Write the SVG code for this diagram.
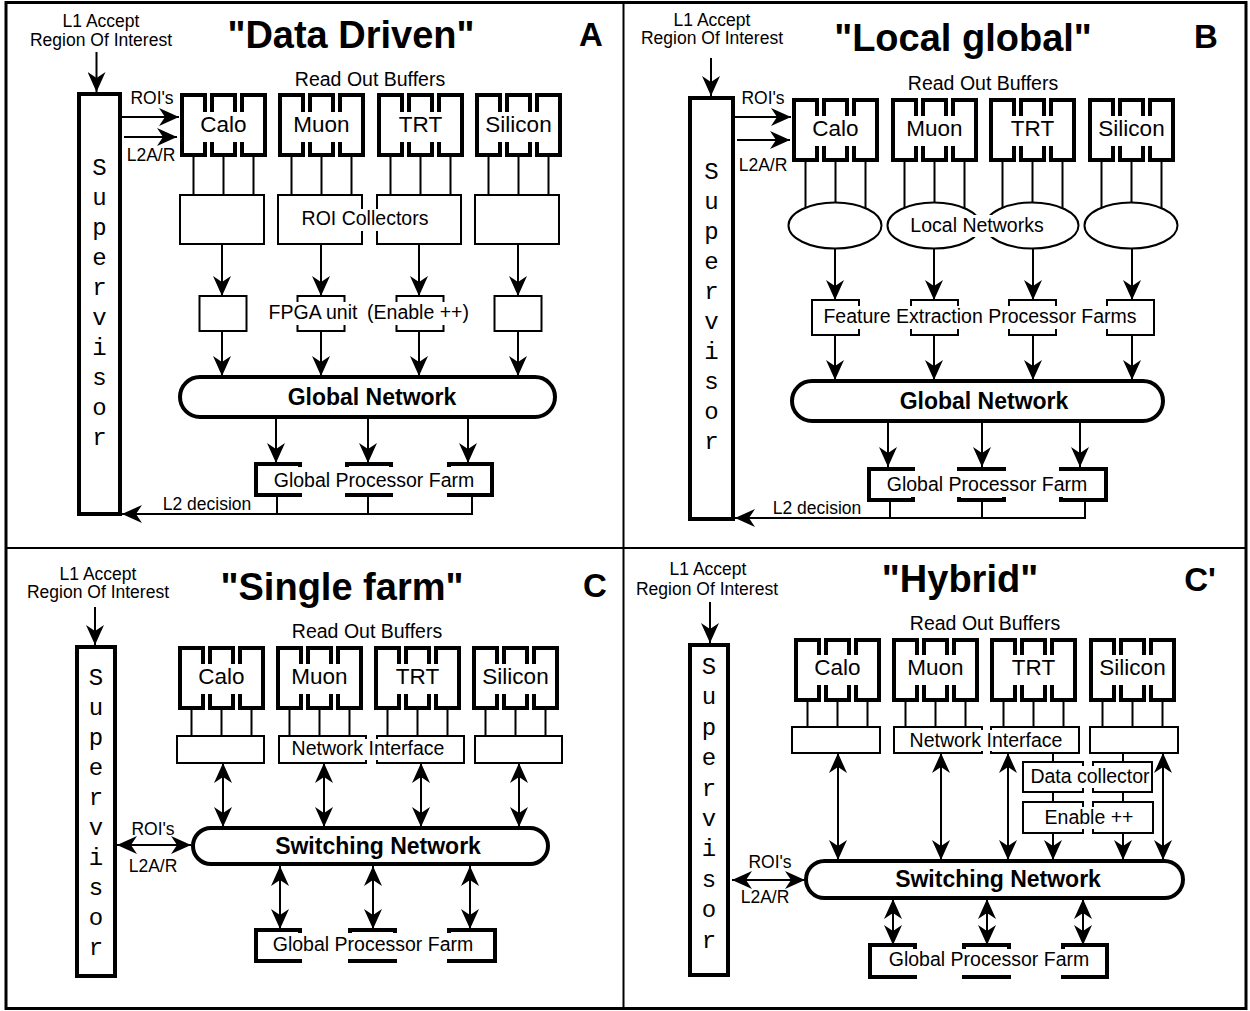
<svg xmlns="http://www.w3.org/2000/svg" xmlns:xlink="http://www.w3.org/1999/xlink" width="1250" height="1011" viewBox="0 0 1250 1011">
<style>
.thick{fill:#fff;stroke:#000;stroke-width:4}
.thin{fill:#fff;stroke:#000;stroke-width:2}
.ln{fill:none;stroke:#000;stroke-width:2}
.ar{fill:none;stroke:#000;stroke-width:2;marker-end:url(#ah)}
.da{fill:none;stroke:#000;stroke-width:2;marker-start:url(#ah);marker-end:url(#ah)}
.bg{fill:#fff;stroke:none}
text{font-family:"Liberation Sans",Arial,Helvetica,sans-serif;fill:#000;text-anchor:middle}
.t19{font-size:19.5px}
.t17{font-size:17.5px}
.rob{font-size:22.5px}
.net{font-size:23px;font-weight:bold}
.ttl{font-size:38px;font-weight:bold}
.let{font-size:33px;font-weight:bold}
.sup{font-family:"Liberation Mono","Courier New",monospace;font-size:24px}
</style>
<defs>
<marker id="ah" markerUnits="userSpaceOnUse" markerWidth="20" markerHeight="18" viewBox="0 0 20 18" refX="20" refY="9" orient="auto-start-reverse"><path d="M20,9 L0,0 L6,9 L0,18 Z" fill="#000"/></marker>
<g id="rob"><rect class="thick" x="2" y="2" width="23" height="60"/><rect class="thick" x="32" y="2" width="23" height="60"/><rect class="thick" x="62" y="2" width="23" height="60"/></g>
</defs>
<rect x="0" y="0" width="1250" height="1011" fill="#fff"/>
<g id="frame" fill="none" stroke="#000">
<rect x="6" y="2.5" width="1240" height="1006" stroke-width="3"/>
<line x1="623.5" y1="3" x2="623.5" y2="1008" stroke-width="2"/>
<line x1="6" y1="548" x2="1246" y2="548" stroke-width="2"/>
</g>

<!-- ============ connectors ============ -->
<g id="connectors">
<!-- panel A -->
<path class="ar" d="M96.5,52 V92"/>
<path class="ar" d="M122,117 H179"/>
<path class="ar" d="M124,137 H177"/>
<path class="ln" d="M193.5,156V195M223.5,156V195M253.5,156V195M291.5,156V195M321.5,156V195M351.5,156V195M390.5,156V195M420.5,156V195M450.5,156V195M488.5,156V195M518.5,156V195M548.5,156V195"/>
<path class="ar" d="M222,244 V296"/><path class="ar" d="M321,244 V296"/><path class="ar" d="M419,244 V296"/><path class="ar" d="M518,244 V296"/>
<path class="ar" d="M222,331 V376"/><path class="ar" d="M321,331 V376"/><path class="ar" d="M419,331 V376"/><path class="ar" d="M518,331 V376"/>
<path class="ar" d="M276,419 V463"/><path class="ar" d="M368,419 V463"/><path class="ar" d="M468,419 V463"/>
<path class="ln" d="M277,497V514M368,497V514"/>
<path class="ar" d="M472,497 V514 H122"/>
<!-- panel B -->
<path class="ar" d="M711,58 V96"/>
<path class="ar" d="M735,117 H791"/>
<path class="ar" d="M737,140 H790"/>
<path class="ln" d="M805.5,162V225M835.5,162V225M865.5,162V225M904.5,162V225M934.5,162V225M964.5,162V225M1002.5,162V225M1032.5,162V225M1062.5,162V225M1101.5,162V225M1131.5,162V225M1161.5,162V225"/>
<path class="ar" d="M835,249 V300"/><path class="ar" d="M934,249 V300"/><path class="ar" d="M1033,249 V300"/><path class="ar" d="M1132,249 V300"/>
<path class="ar" d="M835,335 V380"/><path class="ar" d="M934,335 V380"/><path class="ar" d="M1033,335 V380"/><path class="ar" d="M1132,335 V380"/>
<path class="ar" d="M888,423 V467"/><path class="ar" d="M982,423 V467"/><path class="ar" d="M1080,423 V467"/>
<path class="ln" d="M890,502V518M982,502V518"/>
<path class="ar" d="M1085,502 V518 H735"/>
<!-- panel C -->
<path class="ar" d="M95,607 V645"/>
<path class="ln" d="M191.5,710V736M221.5,710V736M251.5,710V736M289.5,710V736M319.5,710V736M349.5,710V736M387.5,710V736M417.5,710V736M447.5,710V736M485.5,710V736M515.5,710V736M545.5,710V736"/>
<path class="da" d="M223,763 V827"/><path class="da" d="M324,763 V827"/><path class="da" d="M421,763 V827"/><path class="da" d="M519,763 V827"/>
<path class="da" d="M117,845 H191"/>
<path class="da" d="M280,866 V929"/><path class="da" d="M373,866 V929"/><path class="da" d="M470,866 V929"/>
<!-- panel C' -->
<path class="ar" d="M710,602 V643"/>
<path class="ln" d="M807.5,702V727M837.5,702V727M867.5,702V727M905.5,702V727M935.5,702V727M965.5,702V727M1003.5,702V727M1033.5,702V727M1063.5,702V727M1102.5,702V727M1132.5,702V727M1162.5,702V727"/>
<path class="ln" d="M1053,753V762M1123,753V762M1053,792V802M1123,792V802"/>
<path class="ar" d="M1053,833 V860"/><path class="ar" d="M1123,833 V860"/>
<path class="da" d="M838,753 V860"/><path class="da" d="M941,753 V860"/><path class="da" d="M1008,753 V860"/><path class="da" d="M1163,753 V860"/>
<path class="da" d="M732,880 H805"/>
<path class="da" d="M893,899 V945"/><path class="da" d="M987,899 V945"/><path class="da" d="M1083,899 V945"/>
</g>

<!-- ============ panel A ============ -->
<g id="a-title"><text class="ttl" x="351" y="48">"Data Driven"</text><text class="let" x="591" y="46">A</text></g>
<g id="a-l1"><text class="t17" x="101" y="27">L1 Accept</text><text class="t17" x="101" y="46">Region Of Interest</text></g>
<g id="a-roi-labels"><text class="t17" x="152" y="104">ROI's</text><text class="t17" x="151" y="161">L2A/R</text></g>
<g id="a-supervisor"><rect class="thick" x="79" y="94" width="41" height="420"/>
<text class="sup" x="99.5" y="175">S</text><text class="sup" x="99.5" y="205">u</text><text class="sup" x="99.5" y="235">p</text><text class="sup" x="99.5" y="265">e</text><text class="sup" x="99.5" y="295">r</text><text class="sup" x="99.5" y="325">v</text><text class="sup" x="99.5" y="355">i</text><text class="sup" x="99.5" y="385">s</text><text class="sup" x="99.5" y="415">o</text><text class="sup" x="99.5" y="445">r</text></g>
<g id="a-rob-title"><text class="t19" x="370" y="86">Read Out Buffers</text></g>
<g id="a-rob-calo"><use xlink:href="#rob" x="180" y="93"/><rect class="bg" x="198" y="112" width="49" height="30"/><text class="rob" x="223.5" y="132">Calo</text></g>
<g id="a-rob-muon"><use xlink:href="#rob" x="278" y="93"/><rect class="bg" x="292" y="112" width="59" height="30"/><text class="rob" x="321.5" y="132">Muon</text></g>
<g id="a-rob-trt"><use xlink:href="#rob" x="377" y="93"/><rect class="bg" x="397" y="112" width="47" height="30"/><text class="rob" x="420.5" y="132">TRT</text></g>
<g id="a-rob-silicon"><use xlink:href="#rob" x="475" y="93"/><rect class="bg" x="485" y="112" width="69" height="30"/><text class="rob" x="518.5" y="132">Silicon</text></g>
<g id="a-collectors"><rect class="thin" x="180" y="195" width="84" height="49"/><rect class="thin" x="278" y="195" width="84" height="49"/><rect class="thin" x="377" y="195" width="84" height="49"/><rect class="thin" x="475" y="195" width="84" height="49"/>
<rect class="bg" x="301" y="209" width="128" height="22"/><text class="t19" x="365" y="225">ROI Collectors</text></g>
<g id="a-unit-calo"><rect class="thin" x="199.5" y="296" width="47" height="35"/></g>
<g id="a-unit-fpga"><rect class="thin" x="297.5" y="296" width="47" height="35"/><rect class="bg" x="269" y="302" width="88" height="23"/><text class="t19" x="313" y="319">FPGA unit</text></g>
<g id="a-unit-enable"><rect class="thin" x="396.5" y="296" width="47" height="35"/><rect class="bg" x="369" y="302" width="98" height="23"/><text class="t19" x="418" y="319">(Enable ++)</text></g>
<g id="a-unit-silicon"><rect class="thin" x="494.5" y="296" width="47" height="35"/></g>
<g id="a-global-network"><rect class="thick" x="180" y="377" width="375" height="40" rx="20"/><text class="net" x="372" y="405">Global Network</text></g>
<g id="a-farm"><rect class="thick" x="256" y="464" width="44" height="31"/><rect class="thick" x="347" y="464" width="44" height="31"/><rect class="thick" x="449" y="464" width="43" height="31"/>
<rect class="bg" x="274" y="467" width="201" height="26"/><text class="t19" x="374" y="487">Global Processor Farm</text></g>
<g id="a-l2"><text class="t17" x="207" y="510">L2 decision</text></g>

<!-- ============ panel B ============ -->
<g id="b-title"><text class="ttl" x="963" y="51">"Local global"</text><text class="let" x="1206" y="48">B</text></g>
<g id="b-l1"><text class="t17" x="712" y="26">L1 Accept</text><text class="t17" x="712" y="44">Region Of Interest</text></g>
<g id="b-roi-labels"><text class="t17" x="763" y="104">ROI's</text><text class="t17" x="763" y="171">L2A/R</text></g>
<g id="b-supervisor"><rect class="thick" x="690" y="98" width="43" height="421"/>
<text class="sup" x="711.5" y="179">S</text><text class="sup" x="711.5" y="209">u</text><text class="sup" x="711.5" y="239">p</text><text class="sup" x="711.5" y="269">e</text><text class="sup" x="711.5" y="299">r</text><text class="sup" x="711.5" y="329">v</text><text class="sup" x="711.5" y="359">i</text><text class="sup" x="711.5" y="389">s</text><text class="sup" x="711.5" y="419">o</text><text class="sup" x="711.5" y="449">r</text></g>
<g id="b-rob-title"><text class="t19" x="983" y="90">Read Out Buffers</text></g>
<g id="b-rob-calo"><use xlink:href="#rob" x="792" y="98"/><rect class="bg" x="810" y="116" width="49" height="30"/><text class="rob" x="835.5" y="136">Calo</text></g>
<g id="b-rob-muon"><use xlink:href="#rob" x="891" y="98"/><rect class="bg" x="905" y="116" width="59" height="30"/><text class="rob" x="934.5" y="136">Muon</text></g>
<g id="b-rob-trt"><use xlink:href="#rob" x="989" y="98"/><rect class="bg" x="1009" y="116" width="47" height="30"/><text class="rob" x="1032.5" y="136">TRT</text></g>
<g id="b-rob-silicon"><use xlink:href="#rob" x="1088" y="98"/><rect class="bg" x="1098" y="116" width="69" height="30"/><text class="rob" x="1131.5" y="136">Silicon</text></g>
<g id="b-local-networks"><ellipse class="thin" cx="835" cy="225.5" rx="46.5" ry="23"/><ellipse class="thin" cx="934" cy="225.5" rx="46.5" ry="23"/><ellipse class="thin" cx="1032" cy="225.5" rx="46.5" ry="23"/><ellipse class="thin" cx="1131" cy="225.5" rx="46.5" ry="23"/>
<rect class="bg" x="908" y="215" width="138" height="22"/><text class="t19" x="977" y="232">Local Networks</text></g>
<g id="b-feature-farms"><rect class="thin" x="812" y="300" width="47" height="35"/><rect class="thin" x="911" y="300" width="47" height="35"/><rect class="thin" x="1009" y="300" width="47" height="35"/><rect class="thin" x="1107" y="300" width="47" height="35"/>
<rect class="bg" x="824" y="306" width="312" height="23"/><text class="t19" x="980" y="323">Feature Extraction Processor Farms</text></g>
<g id="b-global-network"><rect class="thick" x="792" y="381" width="371" height="40" rx="20"/><text class="net" x="984" y="409">Global Network</text></g>
<g id="b-farm"><rect class="thick" x="869" y="469" width="44" height="31"/><rect class="thick" x="959" y="469" width="45" height="31"/><rect class="thick" x="1061" y="469" width="45" height="31"/>
<rect class="bg" x="887" y="471" width="201" height="26"/><text class="t19" x="987" y="491">Global Processor Farm</text></g>
<g id="b-l2"><text class="t17" x="817" y="514">L2 decision</text></g>

<!-- ============ panel C ============ -->
<g id="c-title"><text class="ttl" x="342" y="600">"Single farm"</text><text class="let" x="595" y="597">C</text></g>
<g id="c-l1"><text class="t17" x="98" y="580">L1 Accept</text><text class="t17" x="98" y="598">Region Of Interest</text></g>
<g id="c-roi-labels"><text class="t17" x="153" y="835">ROI's</text><text class="t17" x="153" y="872">L2A/R</text></g>
<g id="c-supervisor"><rect class="thick" x="77" y="647" width="38" height="329"/>
<text class="sup" x="96" y="685">S</text><text class="sup" x="96" y="715">u</text><text class="sup" x="96" y="745">p</text><text class="sup" x="96" y="775">e</text><text class="sup" x="96" y="805">r</text><text class="sup" x="96" y="835">v</text><text class="sup" x="96" y="865">i</text><text class="sup" x="96" y="895">s</text><text class="sup" x="96" y="925">o</text><text class="sup" x="96" y="955">r</text></g>
<g id="c-rob-title"><text class="t19" x="367" y="638">Read Out Buffers</text></g>
<g id="c-rob-calo"><use xlink:href="#rob" x="178" y="646"/><rect class="bg" x="196" y="664" width="49" height="30"/><text class="rob" x="221.5" y="684">Calo</text></g>
<g id="c-rob-muon"><use xlink:href="#rob" x="276" y="646"/><rect class="bg" x="290" y="664" width="59" height="30"/><text class="rob" x="319.5" y="684">Muon</text></g>
<g id="c-rob-trt"><use xlink:href="#rob" x="374" y="646"/><rect class="bg" x="394" y="664" width="47" height="30"/><text class="rob" x="417.5" y="684">TRT</text></g>
<g id="c-rob-silicon"><use xlink:href="#rob" x="472" y="646"/><rect class="bg" x="482" y="664" width="69" height="30"/><text class="rob" x="515.5" y="684">Silicon</text></g>
<g id="c-interfaces"><rect class="thin" x="177" y="736" width="87" height="27"/><rect class="thin" x="279" y="736" width="87" height="27"/><rect class="thin" x="377" y="736" width="87" height="27"/><rect class="thin" x="475" y="736" width="87" height="27"/>
<rect class="bg" x="290" y="739" width="156" height="21"/><text class="t19" x="368" y="755">Network Interface</text></g>
<g id="c-switching-network"><rect class="thick" x="193" y="828" width="355" height="36" rx="18"/><text class="net" x="378" y="854">Switching Network</text></g>
<g id="c-farm"><rect class="thick" x="256" y="930" width="44" height="31"/><rect class="thick" x="350" y="930" width="45" height="31"/><rect class="thick" x="449" y="930" width="46" height="31"/>
<rect class="bg" x="273" y="933" width="201" height="26"/><text class="t19" x="373" y="951">Global Processor Farm</text></g>

<!-- ============ panel C' ============ -->
<g id="d-title"><text class="ttl" x="960" y="592">"Hybrid"</text><text class="let" x="1200" y="591">C'</text></g>
<g id="d-l1"><text class="t17" x="708" y="575">L1 Accept</text><text class="t17" x="707" y="595">Region Of Interest</text></g>
<g id="d-roi-labels"><text class="t17" x="770" y="868">ROI's</text><text class="t17" x="765" y="903">L2A/R</text></g>
<g id="d-supervisor"><rect class="thick" x="690" y="645" width="38" height="330"/>
<text class="sup" x="709" y="674">S</text><text class="sup" x="709" y="704">u</text><text class="sup" x="709" y="735">p</text><text class="sup" x="709" y="765">e</text><text class="sup" x="709" y="796">r</text><text class="sup" x="709" y="826">v</text><text class="sup" x="709" y="856">i</text><text class="sup" x="709" y="887">s</text><text class="sup" x="709" y="917">o</text><text class="sup" x="709" y="948">r</text></g>
<g id="d-rob-title"><text class="t19" x="985" y="630">Read Out Buffers</text></g>
<g id="d-rob-calo"><use xlink:href="#rob" x="794" y="638"/><rect class="bg" x="812" y="655" width="49" height="30"/><text class="rob" x="837.5" y="675">Calo</text></g>
<g id="d-rob-muon"><use xlink:href="#rob" x="892" y="638"/><rect class="bg" x="906" y="655" width="59" height="30"/><text class="rob" x="935.5" y="675">Muon</text></g>
<g id="d-rob-trt"><use xlink:href="#rob" x="990" y="638"/><rect class="bg" x="1010" y="655" width="47" height="30"/><text class="rob" x="1033.5" y="675">TRT</text></g>
<g id="d-rob-silicon"><use xlink:href="#rob" x="1089" y="638"/><rect class="bg" x="1099" y="655" width="69" height="30"/><text class="rob" x="1132.5" y="675">Silicon</text></g>
<g id="d-interfaces"><rect class="thin" x="792" y="727" width="88" height="26"/><rect class="thin" x="894" y="727" width="88" height="26"/><rect class="thin" x="991" y="727" width="88" height="26"/><rect class="thin" x="1090" y="727" width="88" height="26"/>
<rect class="bg" x="908" y="730" width="156" height="21"/><text class="t19" x="986" y="747">Network Interface</text></g>
<g id="d-data-collector"><rect class="thin" x="1023" y="762" width="60" height="30"/><rect class="thin" x="1093" y="762" width="59" height="30"/>
<rect class="bg" x="1029" y="766" width="122" height="22"/><text class="t19" x="1090" y="783">Data collector</text></g>
<g id="d-enable"><rect class="thin" x="1023" y="802" width="60" height="31"/><rect class="thin" x="1093" y="802" width="60" height="31"/>
<rect class="bg" x="1042" y="807" width="94" height="22"/><text class="t19" x="1089" y="824">Enable ++</text></g>
<g id="d-switching-network"><rect class="thick" x="806" y="861" width="377" height="37" rx="18.5"/><text class="net" x="998" y="887">Switching Network</text></g>
<g id="d-farm"><rect class="thick" x="870" y="945" width="45" height="32"/><rect class="thick" x="964" y="945" width="45" height="32"/><rect class="thick" x="1063" y="945" width="44" height="32"/>
<rect class="bg" x="889" y="949" width="201" height="26"/><text class="t19" x="989" y="966">Global Processor Farm</text></g>
</svg>
